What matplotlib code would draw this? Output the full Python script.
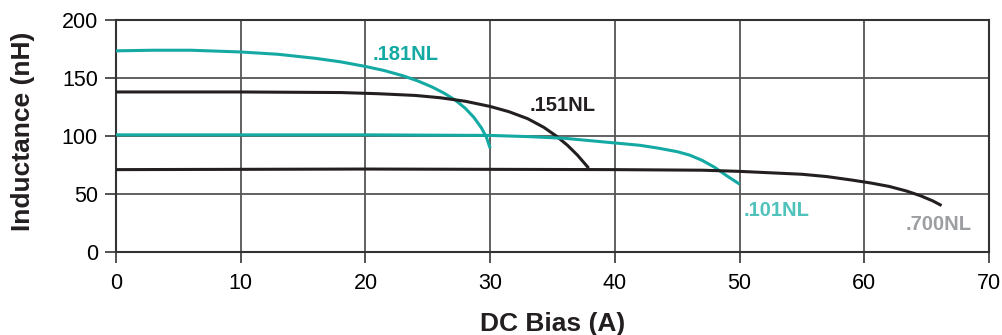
import matplotlib
matplotlib.use("Agg")
import matplotlib.pyplot as plt

plt.rcParams['font.family'] = ['Liberation Sans', 'DejaVu Sans']

teal = '#14aaa3'
dark = '#231f20'

x_181 = [0, 3, 6, 10, 13, 16, 18, 20, 21.5, 23, 24.2, 25.3, 26.3, 27.2, 28, 28.7, 29.3, 29.7, 30]
y_181 = [173.5, 174, 174, 172.5, 170.5, 167, 164, 160, 156.5, 152, 147.5, 142.5, 137, 131, 124, 116, 107, 99, 89.5]

x_151 = [0, 10, 18, 21, 24, 26, 28, 30, 31.5, 33, 34.3, 35.3, 36.2, 37, 37.9]
y_151 = [138, 138, 137.5, 136.5, 135, 133, 130, 125.5, 121, 115, 107.5, 100, 92, 83.5, 72.3]

x_101 = [0, 20, 30, 33, 36, 38, 40, 42, 43.5, 45, 46, 47, 48, 49, 50]
y_101 = [101, 101, 100.5, 99.5, 98, 96, 94, 92, 89.5, 86.5, 83.5, 79, 73, 65.5, 58.5]

x_700 = [0, 20, 40, 47, 50, 53, 55, 57, 59, 60.5, 62, 63.4, 64.5, 65.5, 66.2]
y_700 = [71, 71.5, 71, 70.5, 69.5, 68, 67, 65, 62, 59.5, 56.5, 52.5, 48.5, 44, 40]

labels = ['.181NL', '.151NL', '.101NL', '.700NL']
label_x = [20.6, 33.2, 50.3, 63.3]
label_y = [170, 126.5, 36, 24]
label_colors = [teal, dark, '#4fc2bc', '#9c9ea1']

x_ticks = [0, 10, 20, 30, 40, 50, 60, 70]
y_ticks = [0, 50, 100, 150, 200]

fig = plt.figure(figsize=(10.03, 3.35), dpi=100)
ax = fig.add_axes([0.1157, 0.248, 0.8703, 0.692])

for xs, ys, c in [(x_181, y_181, teal), (x_151, y_151, dark), (x_101, y_101, teal), (x_700, y_700, dark)]:
    ax.plot(xs, ys, color=c, lw=2.2, solid_capstyle='butt', solid_joinstyle='round', zorder=3)

for t, lx, ly, c in zip(labels, label_x, label_y, label_colors):
    ax.text(lx, ly, t, color=c, fontsize=14.5, fontweight='bold', va='center', ha='left')

ax.set_xlim(0, 70)
ax.set_ylim(0, 200)
ax.set_xticks(x_ticks)
ax.set_yticks(y_ticks)
ax.grid(True, color='#555555', lw=1.3)
ax.set_axisbelow(True)
for s in ax.spines.values():
    s.set_color('#333333')
    s.set_linewidth(1.5)
ax.tick_params(direction='out', length=8, width=1.2, color='#333333', labelsize=15.5)
ax.tick_params(axis='x', pad=7)
ax.tick_params(axis='y', pad=5)
ax.set_xlabel('DC Bias (A)', fontsize=19, fontweight='bold', labelpad=13, color=dark)
ax.set_ylabel('Inductance (nH)', fontsize=19, fontweight='bold', labelpad=19, color=dark)
ax.yaxis.label.set_y(0.52)

fig.savefig('out.png', dpi=100)
